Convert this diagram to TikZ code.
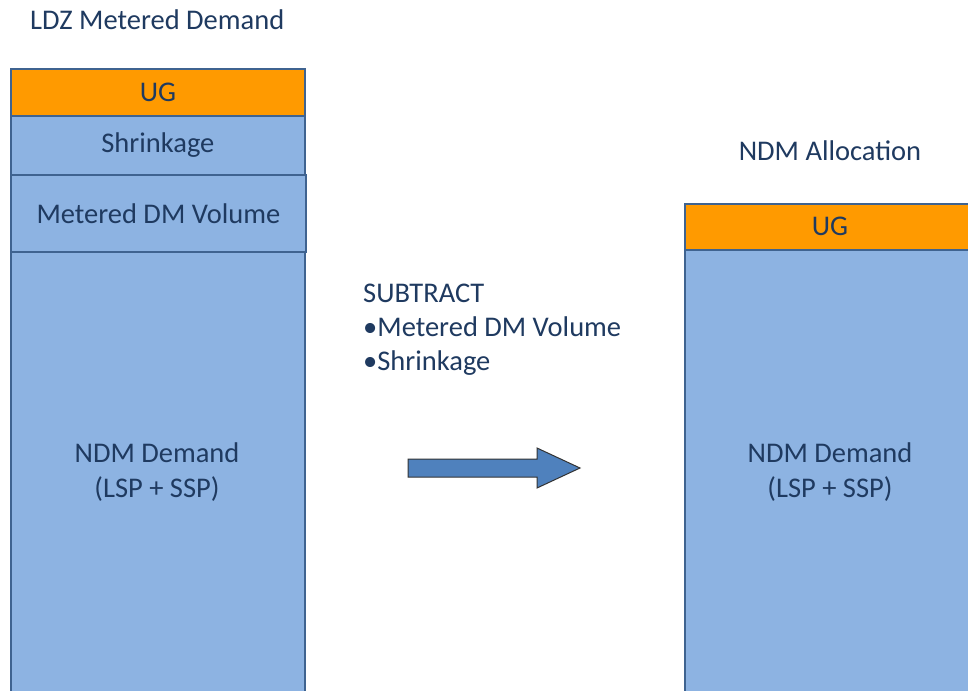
\documentclass[tikz,border=0pt]{standalone}
\usepackage{fontspec}
\setmainfont{Carlito}
\definecolor{txt}{HTML}{1F3A60}
\definecolor{boxblue}{HTML}{8DB3E2}
\definecolor{edge}{HTML}{3F6390}
\definecolor{ugorange}{HTML}{FF9A00}
\definecolor{arrowblue}{HTML}{4F81BD}
\tikzset{
  layer/.style={draw=edge, line width=1.8pt, inner sep=0pt, anchor=north west, text=txt, font=\fontsize{28.5}{35}\selectfont, align=center},
  bluelayer/.style={layer, fill=boxblue},
  uglayer/.style={layer, fill=ugorange},
  label/.style={text=txt, font=\fontsize{28.5}{35}\selectfont, inner sep=0pt},
}
\begin{document}
\begin{tikzpicture}[x=1pt,y=-1pt]
\useasboundingbox (0,0) rectangle (968,690);
\fill[white] (0,0) rectangle (968,690);
% left column
\node[bluelayer, minimum width=294pt, minimum height=460pt] (ndmL) at (10,251) {};
\node[label, align=center] (ndmLt) at (157,472) {NDM Demand\\(LSP + SSP)};
\node[bluelayer, minimum width=295pt, minimum height=77pt] (met) at (10,174) {Metered DM Volume};
\node[bluelayer, minimum width=294pt, minimum height=59pt] (shr) at (10,115) {Shrinkage};
\node[uglayer, minimum width=294pt, minimum height=47pt] (ugL) at (10,68) {UG};
% right column
\node[bluelayer, minimum width=320pt, minimum height=460pt] (ndmR) at (684,249) {};
\node[label, align=center] (ndmRt) at (830,472) {NDM Demand\\(LSP + SSP)};
\node[uglayer, minimum width=320pt, minimum height=46pt] (ugR) at (684,203) {};
\node[label] (ugRt) at (830,226) {UG};
% titles
\node[label, anchor=west] (t1) at (30,20) {LDZ Metered Demand};
\node[label] (t2) at (830,151) {NDM Allocation};
% subtract text
\node[label, anchor=base west] (s1) at (363,302) {SUBTRACT};
\node[label, anchor=base west] (s2) at (363,336) {•Metered DM Volume};
\node[label, anchor=base west] (s3) at (363,370) {•Shrinkage};
% arrow
\draw[draw=black!80, line width=1pt, fill=arrowblue, line join=miter]
  (408,459) -- (537,459) -- (537,448) -- (580,468) -- (537,488) -- (537,477) -- (408,477) -- cycle;
\end{tikzpicture}
\end{document}
